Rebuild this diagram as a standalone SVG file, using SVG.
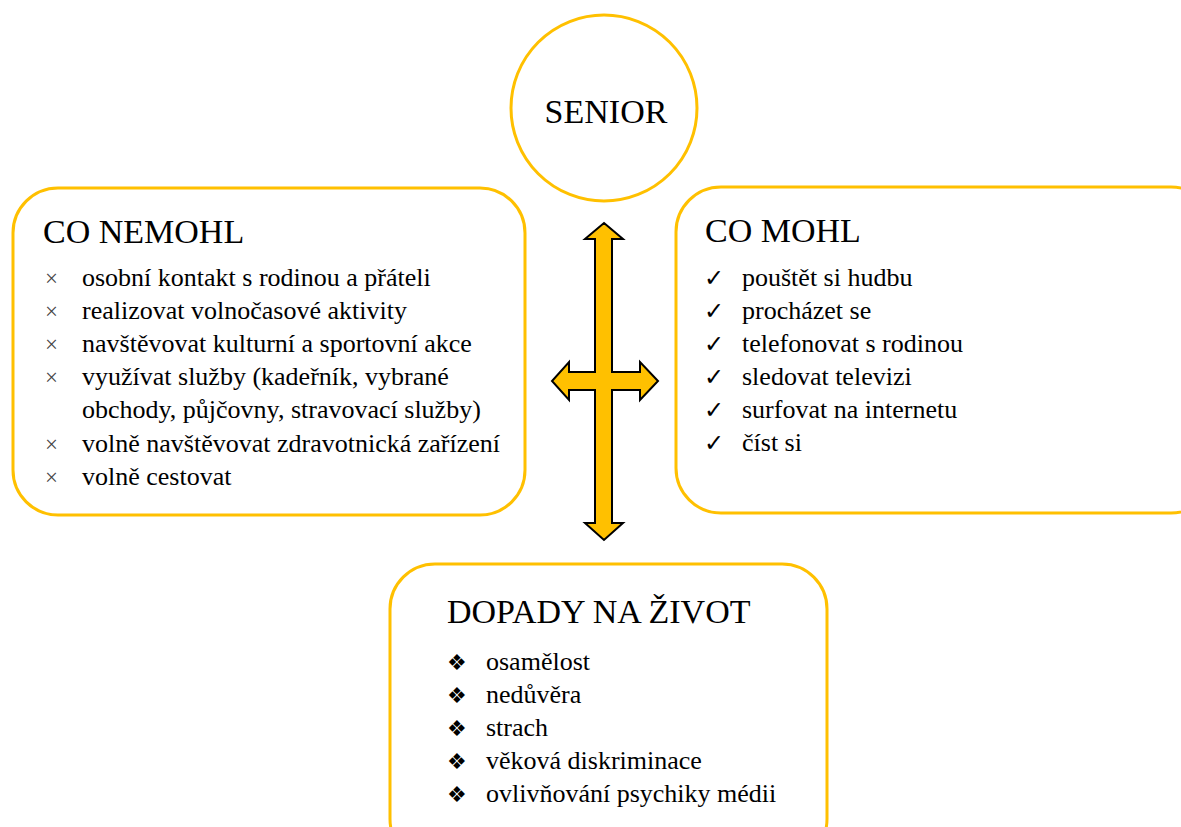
<svg xmlns="http://www.w3.org/2000/svg" width="1181" height="827" viewBox="0 0 1181 827">
<style>
.box{fill:#fff;stroke:#FFC000;stroke-width:3}
.h{font-family:"Liberation Serif","Times New Roman",serif;font-size:34px;fill:#000}
.t{font-family:"Liberation Serif","Times New Roman",serif;font-size:26px;fill:#000}
.bx{font-family:"Liberation Serif",serif;font-size:23px;fill:#444}
.bc{font-family:"DejaVu Sans",sans-serif;font-size:24px;font-weight:bold;fill:#000}
.bd{font-family:"DejaVu Sans",sans-serif;font-size:22px;fill:#000}
.arrow{fill:#FFC000;stroke:#000;stroke-width:2;stroke-linejoin:miter}
</style>
<rect width="1181" height="827" fill="#fff"/>
<g id="connectors">
<path class="arrow" d="M604,223 L623,239 L612,239 L612,372 L640,372 L640,362 L658,381 L640,400 L640,390 L612,390 L612,523 L623,523 L604,540 L585,523 L595,523 L595,390 L569,390 L569,400 L552,381 L569,362 L569,372 L595,372 L595,239 L585,239 Z"/>
</g>
<g id="senior">
<circle class="box" cx="604" cy="108" r="93"/>
<text class="h" x="606" y="123" text-anchor="middle">SENIOR</text>
</g>
<g id="co-nemohl">
<rect class="box" x="13" y="188" width="512" height="327" rx="45"/>
<text class="h" x="43" y="243">CO NEMOHL</text>
<text class="bx" x="45" y="286">×</text><text class="t" x="82" y="286">osobní kontakt s rodinou a přáteli</text>
<text class="bx" x="45" y="319">×</text><text class="t" x="82" y="319">realizovat volnočasové aktivity</text>
<text class="bx" x="45" y="352">×</text><text class="t" x="82" y="352">navštěvovat kulturní a sportovní akce</text>
<text class="bx" x="45" y="385">×</text><text class="t" x="82" y="385">využívat služby (kadeřník, vybrané</text>
<text class="t" x="82" y="418">obchody, půjčovny, stravovací služby)</text>
<text class="bx" x="45" y="452">×</text><text class="t" x="82" y="452">volně navštěvovat zdravotnická zařízení</text>
<text class="bx" x="45" y="485">×</text><text class="t" x="82" y="485">volně cestovat</text>
</g>
<g id="co-mohl">
<rect class="box" x="676" y="187" width="540" height="326" rx="45"/>
<text class="h" x="705" y="242">CO MOHL</text>
<text class="bc" x="704" y="286">✓</text><text class="t" x="742" y="286">pouštět si hudbu</text>
<text class="bc" x="704" y="319">✓</text><text class="t" x="742" y="319">procházet se</text>
<text class="bc" x="704" y="352">✓</text><text class="t" x="742" y="352">telefonovat s rodinou</text>
<text class="bc" x="704" y="385">✓</text><text class="t" x="742" y="385">sledovat televizi</text>
<text class="bc" x="704" y="418">✓</text><text class="t" x="742" y="418">surfovat na internetu</text>
<text class="bc" x="704" y="451">✓</text><text class="t" x="742" y="451">číst si</text>
</g>
<g id="dopady">
<rect class="box" x="390" y="564" width="437" height="300" rx="45"/>
<text class="h" x="447" y="623">DOPADY NA ŽIVOT</text>
<text class="bd" x="447" y="670">❖</text><text class="t" x="486" y="670">osamělost</text>
<text class="bd" x="447" y="703">❖</text><text class="t" x="486" y="703">nedůvěra</text>
<text class="bd" x="447" y="736">❖</text><text class="t" x="486" y="736">strach</text>
<text class="bd" x="447" y="769">❖</text><text class="t" x="486" y="769">věková diskriminace</text>
<text class="bd" x="447" y="802">❖</text><text class="t" x="486" y="802">ovlivňování psychiky médii</text>
</g>
</svg>
